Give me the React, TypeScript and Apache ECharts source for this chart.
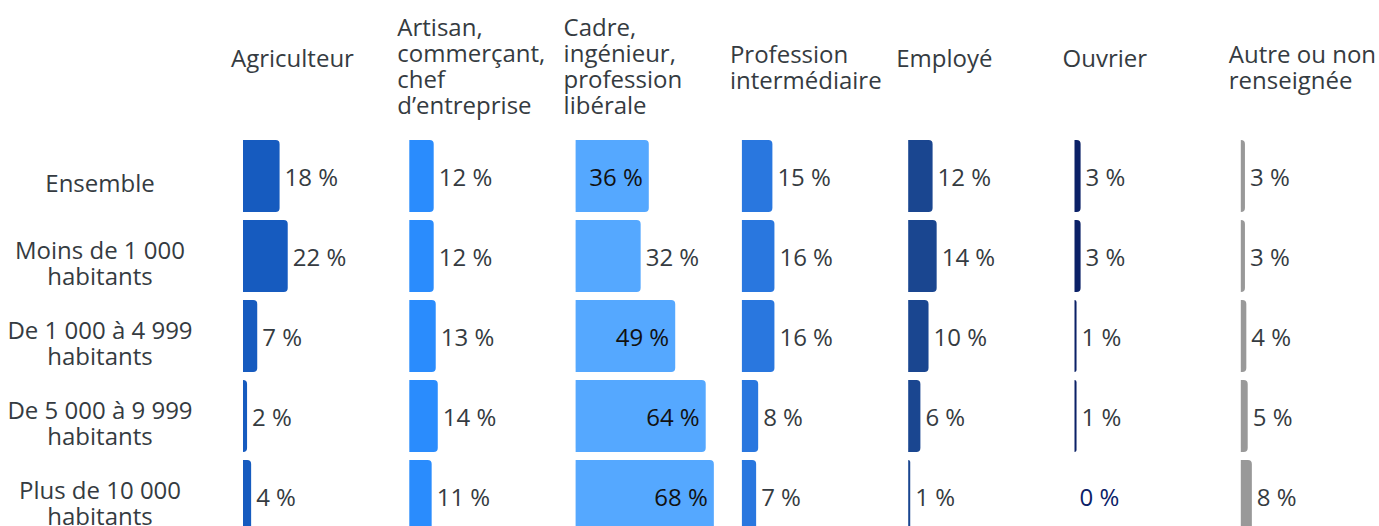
import React, { useEffect, useRef } from "react";
import * as echarts from "echarts";

const rows = [
  "Ensemble",
  "Moins de 1 000\nhabitants",
  "De 1 000 à 4 999\nhabitants",
  "De 5 000 à 9 999\nhabitants",
  "Plus de 10 000\nhabitants",
];

const columns = [
  "Agriculteur",
  "Artisan,\ncommerçant,\nchef\nd’entreprise",
  "Cadre,\ningénieur,\nprofession\nlibérale",
  "Profession\nintermédiaire",
  "Employé",
  "Ouvrier",
  "Autre ou non\nrenseignée",
];

const agriculteur = [18, 22, 7, 2, 4];
const artisan = [12, 12, 13, 14, 11];
const cadre = [36, 32, 49, 64, 68];
const profession = [15, 16, 16, 8, 7];
const employe = [12, 14, 10, 6, 1];
const ouvrier = [3, 3, 1, 1, 0];
const autre = [3, 3, 4, 5, 8];

const seriesValues = [agriculteur, artisan, cadre, profession, employe, ouvrier, autre];
const colors = ["#165bbf", "#2a8cfd", "#55a8ff", "#2977df", "#1a4690", "#0b2167", "#999999"];
// which labels are drawn inside the bar (Cadre column only)
const cadreInside = [true, false, true, true, true];

const FONT = "'Open Sans', 'Noto Sans', sans-serif";
const TEXT = "#353b41";

export default function App() {
  const ref = useRef<HTMLDivElement>(null);
  useEffect(() => {
    if (!ref.current) return;
    const chart = echarts.init(ref.current, null, { renderer: "svg" });
    const x0 = 243;
    const step = 166.3;
    const gridW = 203.3;
    const titleTops = [45, 14, 14, 41, 45, 45, 41];

    const grids: any[] = [];
    const xAxes: any[] = [];
    const yAxes: any[] = [];
    const series: any[] = [];
    const titles: any[] = [];

    columns.forEach((col, i) => {
      const left = x0 + i * step;
      grids.push({ left, top: 136, width: gridW, height: 400, containLabel: false });
      xAxes.push({ type: "value", gridIndex: i, min: 0, max: 100, show: false });
      yAxes.push({
        type: "category",
        gridIndex: i,
        inverse: true,
        data: rows,
        show: false,
      });
      titles.push({
        text: col,
        left: left - 12,
        top: titleTops[i],
        padding: 0,
        textStyle: {
          fontFamily: FONT,
          fontSize: 24,
          fontWeight: "normal",
          lineHeight: 25.8,
          color: TEXT,
        },
      });
      const vals = seriesValues[i];
      series.push({
        type: "bar",
        xAxisIndex: i,
        yAxisIndex: i,
        barWidth: 72,
        itemStyle: { color: colors[i], borderRadius: [0, 4, 4, 0] },
        label: {
          show: true,
          position: "right",
          distance: 5,
          fontFamily: FONT,
          fontSize: 24,
          color: TEXT,
          formatter: (p: any) => p.value + "\u00A0%",
        },
        data: vals.map((v, j) => {
          const item: any = { value: v };
          if (i === 2 && cadreInside[j]) {
            item.label = { position: "insideRight", distance: 6, color: "#111111" };
          }
          if (v === 0) {
            item.label = { color: colors[i] };
          }
          return item;
        }),
      });
    });

    // Row-label axis, set slightly lower than the bars as in the reference
    const li = columns.length;
    grids.push({ left: x0, top: 142, width: gridW, height: 400, containLabel: false });
    xAxes.push({ type: "value", gridIndex: li, min: 0, max: 100, show: false });
    yAxes.push({
      type: "category",
      gridIndex: li,
      inverse: true,
      data: rows,
      axisLine: { show: false },
      axisTick: { show: false },
      splitLine: { show: false },
      axisLabel: {
        align: "center",
        margin: x0 - 100,
        fontFamily: FONT,
        fontSize: 24,
        lineHeight: 26,
        color: TEXT,
      },
    });

    chart.setOption({
      animation: false,
      backgroundColor: "#ffffff",
      title: titles,
      grid: grids,
      xAxis: xAxes,
      yAxis: yAxes,
      series,
    });
    return () => chart.dispose();
  }, []);
  return (
    <div
      ref={ref}
      style={{ position: "fixed", left: 0, top: 0, width: 1379, height: 560 }}
    />
  );
}
